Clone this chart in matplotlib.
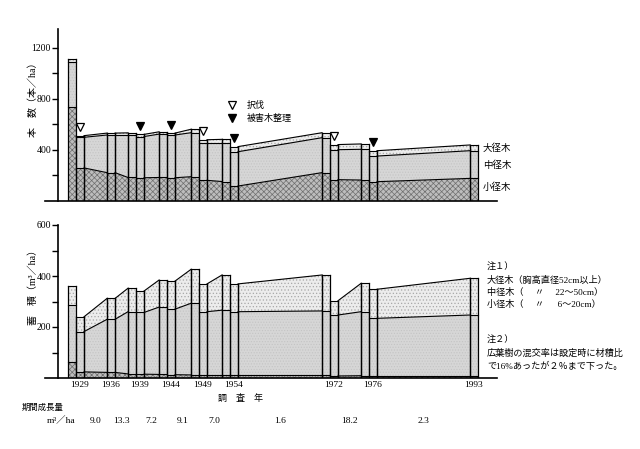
import matplotlib.pyplot as plt
from matplotlib.transforms import blended_transform_factory

plt.rcParams['font.family'] = ['Liberation Serif', 'Noto Sans CJK JP']
plt.rcParams['hatch.linewidth'] = 0.5

# --- data ---
years = [1929, 1936, 1939, 1944, 1949, 1954, 1972, 1976, 1993]
# schematic position of each survey on the x axis (not to scale in the original)
survey_x = [76, 115, 136, 167, 199, 230, 330, 369, 478]
thinned = [True, False, True, True, True, True, True, True, False]
# 'sel' = 択伐 (open triangle), 'dmg' = 被害木整理 (filled triangle)
thin_kind = ['sel', None, 'dmg', 'dmg', 'sel', 'dmg', 'sel', 'dmg', None]

# stems per ha (small / medium / large diameter class), before and after thinning
n_small_pre = [735, 220, 182, 182, 188, 150, 220, 162, 175]
n_mid_pre = [355, 295, 333, 340, 345, 300, 274, 241, 217]
n_large_pre = [20, 15, 17, 18, 27, 31, 39, 42, 45]
n_small_post = [257, 220, 180, 180, 160, 115, 165, 149, 175]
n_mid_post = [240, 295, 323, 335, 290, 269, 235, 201, 217]
n_large_post = [13, 15, 17, 15, 28, 40, 40, 42, 45]

# volume m3 per ha
v_small_pre = [64, 22, 16, 14, 12, 11, 10, 9, 8]
v_mid_pre = [222, 208, 244, 264, 281, 255, 253, 251, 239]
v_large_pre = [76, 82, 92, 106, 133, 138, 141, 111, 144]
v_small_post = [24, 22, 15, 13, 11, 10, 8, 8, 8]
v_mid_post = [158, 208, 242, 257, 249, 250, 239, 226, 239]
v_large_post = [58, 82, 84, 110, 109, 109, 56, 114, 144]

growth = ['9.0', '13.3', '7.2', '9.1', '7.0', '1.6', '18.2', '2.3']

bar_w = 8
W, H = 640, 449

styles = [
    dict(facecolor='#bdbdbd', edgecolor='#6e6e6e', hatch='xxxxxx'),   # small
    dict(facecolor='#d6d6d6', edgecolor='#c4c4c4', hatch='......'),   # medium
    dict(facecolor='#ececec', edgecolor='#a8a8a8', hatch='.....'),    # large
]


def build_segments(pre, post):
    segs = []
    for i, p in enumerate(survey_x):
        segs.append((p - bar_w, p, pre[i], pre[i], False))
        end = p
        if thinned[i]:
            segs.append((p, p + bar_w, post[i], post[i], False))
            end = p + bar_w
        if i + 1 < len(survey_x):
            start = post[i] if thinned[i] else pre[i]
            segs.append((end, survey_x[i + 1] - bar_w, start, pre[i + 1], True))
    return segs


def draw_stack(ax, pre, post):
    segs = build_segments(pre, post)
    for x0, x1, a, b in [(s[0], s[1], s[2], s[3]) for s in segs]:
        lo0 = lo1 = 0
        for k in range(3):
            hi0, hi1 = lo0 + a[k], lo1 + b[k]
            ax.fill_between([x0, x1], [lo0, lo1], [hi0, hi1], linewidth=0,
                            **styles[k])
            ax.plot([x0, x1], [hi0, hi1], color='black', lw=0.8)
            lo0, lo1 = hi0, hi1
        ax.plot([x0, x0], [0, lo0], color='black', lw=0.9)
        ax.plot([x1, x1], [0, lo1], color='black', lw=0.9)
    return segs


def style_axis(ax, ymax, major, minor):
    ax.set_xlim(45, 497)
    ax.set_ylim(0, ymax)
    for s in ['top', 'right']:
        ax.spines[s].set_visible(False)
    ax.spines['left'].set_position(('data', 58))
    ax.spines['left'].set_linewidth(1.2)
    ax.spines['bottom'].set_linewidth(1.2)
    ax.set_yticks(major)
    ax.set_yticks(minor, minor=True)
    ax.tick_params(axis='y', which='both', length=4, width=1, labelsize=7, pad=1)
    ax.set_facecolor('none')


fig = plt.figure(figsize=(W / 100, H / 100), dpi=100)

# --- top panel: stems ---
ax1 = fig.add_axes([45 / W, 1 - 200.7 / H, 452 / W, 172.2 / H])
pre_n = list(zip(n_small_pre, n_mid_pre, n_large_pre))
post_n = list(zip(n_small_post, n_mid_post, n_large_post))
draw_stack(ax1, pre_n, post_n)
style_axis(ax1, 1350, [400, 800, 1200], [200, 600, 1000])
ax1.set_xticks([])

for i, kind in enumerate(thin_kind):
    if kind is None:
        continue
    tot = sum(post_n[i])
    ax1.plot(survey_x[i] + bar_w / 2, tot + 65, marker='v', ms=6,
             mfc='white' if kind == 'sel' else 'black', mec='black', mew=0.9)

# legend
ax1.plot(0.414, 0.556, transform=ax1.transAxes, marker='v', ms=6, mfc='white',
         mec='black', mew=0.9)
ax1.plot(0.414, 0.48, transform=ax1.transAxes, marker='v', ms=6, mfc='black',
         mec='black')
ax1.text(0.447, 0.556, '択伐', transform=ax1.transAxes, fontsize=6.5, va='center')
ax1.text(0.447, 0.48, '被害木整理', transform=ax1.transAxes, fontsize=6.5,
         va='center')

# class labels at the right
for txt, yv in [('大径木', 413), ('中径木', 280), ('小径木', 107)]:
    ax1.text(483, yv, txt, fontsize=6.8, va='center', ha='left', clip_on=False)

# --- bottom panel: volume ---
ax2 = fig.add_axes([45 / W, 1 - 378 / H, 452 / W, 153 / H])
pre_v = list(zip(v_small_pre, v_mid_pre, v_large_pre))
post_v = list(zip(v_small_post, v_mid_post, v_large_post))
segs = draw_stack(ax2, pre_v, post_v)
style_axis(ax2, 600, [200, 400, 600], [100, 300, 500])

tick_x = [p + bar_w / 2 if t else p - bar_w / 2 for p, t in zip(survey_x, thinned)]
ax2.set_xticks(tick_x, [str(y) for y in years])
ax2.tick_params(axis='x', length=0, labelsize=6.8, pad=2)

# growth per period under the axis
trans = blended_transform_factory(ax2.transData, fig.transFigure)
mids = [(s[0] + s[1]) / 2 for s in segs if s[4]]
for xm, g in zip(mids, growth):
    fig.text(xm, 1 - 421 / H, g, transform=trans, fontsize=6.8, ha='center',
             va='center')

fig.text(240 / W, 1 - 398 / H, '調　査　年', fontsize=6.5, ha='center', va='center')
fig.text(22 / W, 1 - 408 / H, '期間成長量', fontsize=6, ha='left', va='center')
fig.text(47 / W, 1 - 421 / H, 'm³／ha', fontsize=6.8, ha='left', va='center')

# y axis titles
fig.text(33 / W, 1 - 97 / H, '本　数（本／ha）', rotation=90, fontsize=7.2,
         ha='center', va='center')
fig.text(33 / W, 1 - 285 / H, '蓄　積（m³／ha）', rotation=90, fontsize=7.2,
         ha='center', va='center')

# notes
notes = [
    (267, '注１）'),
    (280, '大径木（胸高直径52cm以上）'),
    (292, '中径木（　 〃 　22～50cm）'),
    (304, '小径木（　 〃 　 6～20cm）'),
    (340, '注２）'),
    (353, '広葉樹の混交率は設定時に材積比'),
    (366, 'で16%あったが２％まで下った。'),
]
for yp, txt in notes:
    fig.text(487 / W, 1 - yp / H, txt, fontsize=6.6, ha='left', va='center')

fig.savefig('out.png', dpi=100)
